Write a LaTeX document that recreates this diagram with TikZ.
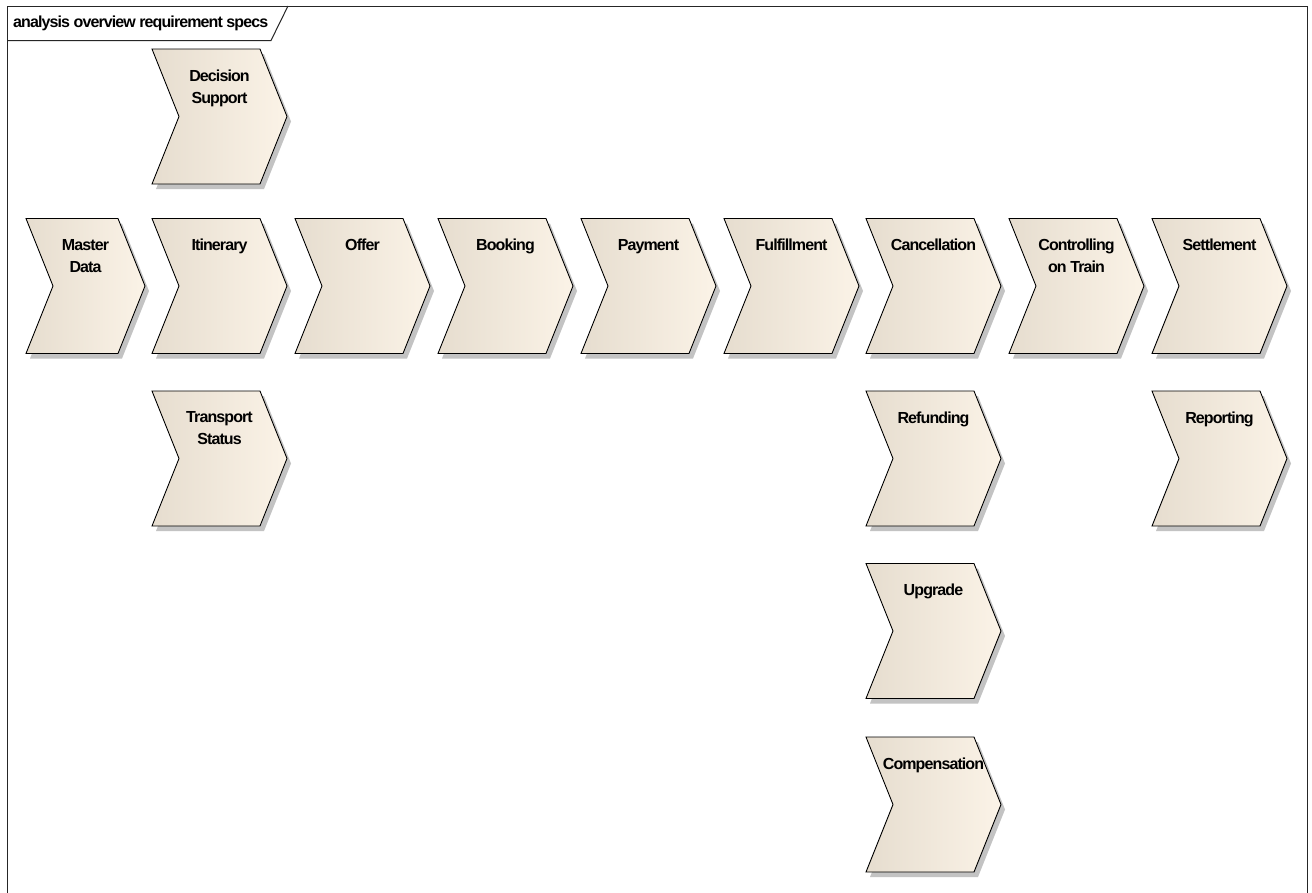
\documentclass[tikz,border=0pt]{standalone}
\usepackage{fontspec}
\setmainfont{Liberation Sans}[LetterSpace=-5.6]
\definecolor{chevdark}{RGB}{230,221,207}
\definecolor{chevmid}{RGB}{248,239,226}
\definecolor{chevlight}{RGB}{251,243,231}
\definecolor{shadowgray}{RGB}{195,195,195}
\tikzset{
  chevfill/.style={draw=black, line width=0.9pt, line join=miter, left color=chevdark, middle color=chevmid, right color=chevlight},
  chevshadow/.style={fill=shadowgray, draw=none},
  chevlabel/.style={font=\fontsize{16}{22}\selectfont\bfseries, align=center, anchor=north, inner sep=0pt, text=black},
  framestyle/.style={draw=black!85, line width=1pt}
}
% #1 left x, #2 top y, #3 width, #4 node name, #5 label
\newcommand{\chevronbox}[5]{%
  \fill[chevshadow] ({#1+4},{#2+5}) -- ({#1+#3-27+4},{#2+5}) -- ({#1+#3+4},{#2+67.5+5}) -- ({#1+#3-27+4},{#2+135+5}) -- ({#1+4},{#2+135+5}) -- ({#1+27+4},{#2+67.5+5}) -- cycle;
  \path[chevfill] (#1,#2) -- ({#1+#3-27},#2) -- ({#1+#3},{#2+67.5}) -- ({#1+#3-27},{#2+135}) -- (#1,{#2+135}) -- ({#1+27},{#2+67.5}) -- cycle;
  \node[chevlabel] (#4) at ({#1+#3/2},{#2+20.5}) {#5};
}
\begin{document}
\begin{tikzpicture}[x=1pt,y=-1pt]
\useasboundingbox (0,0) rectangle (1312,892);
\fill[white] (0,0) rectangle (1312,892);
% frame
\draw[framestyle] (7,6) rectangle (1307,910);
\draw[framestyle] (7,40.5) -- (271,40.5) -- (288,6);
\node[font=\fontsize{16}{20}\selectfont\bfseries, anchor=base west, inner sep=0pt] (title) at (13,27.5) {analysis overview requirement specs};
% top row
\chevronbox{152}{49}{135}{ds}{Decision\\Support}
% main row
\chevronbox{26}{218.5}{119}{md}{Master\\Data}
\chevronbox{152}{218.5}{135}{it}{Itinerary}
\chevronbox{295}{218.5}{135}{of}{Offer}
\chevronbox{438}{218.5}{135}{bk}{Booking}
\chevronbox{581}{218.5}{135}{pm}{Payment}
\chevronbox{724}{218.5}{135}{ff}{Fulfillment}
\chevronbox{866}{218.5}{135}{cn}{Cancellation}
\chevronbox{1009}{218.5}{135}{ct}{Controlling\\on Train}
\chevronbox{1152}{218.5}{135}{st}{Settlement}
% lower rows
\chevronbox{152}{391}{135}{ts}{Transport\\Status}
\chevronbox{866}{391}{135}{rf}{Refunding}
\chevronbox{1152}{391}{135}{rp}{Reporting}
\chevronbox{866}{563.5}{135}{ug}{Upgrade}
\chevronbox{866}{737}{135}{cp}{Compensation}
\end{tikzpicture}
\end{document}
